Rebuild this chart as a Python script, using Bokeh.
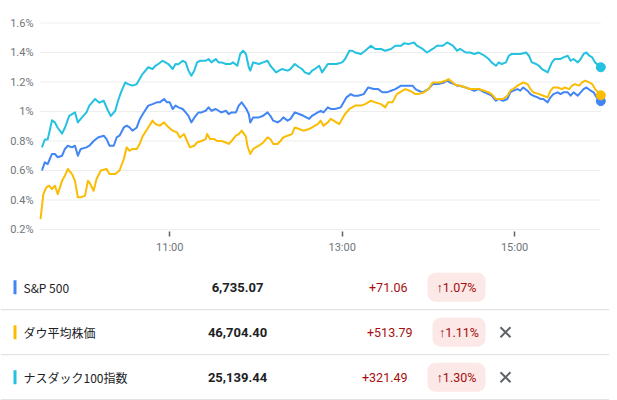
from bokeh.plotting import figure
from bokeh.models import Range1d, FixedTicker, CustomJSTickFormatter
from bokeh.layouts import column
from bokeh.embed import file_html
from bokeh.resources import INLINE
from bokeh.core.properties import value

# ---------------- data ----------------
session_start = "9:30"
session_end = "16:00"

# minutes after 9:30, % change
sp_t = [1, 3, 5, 8, 10, 12, 15, 17, 19, 22,
        24, 26, 28, 32, 34, 37, 40, 44, 46, 48,
        51, 53, 55, 58, 60, 62, 64, 67, 69, 71,
        75, 78, 81, 83, 86, 88, 90, 92, 94, 96,
        99, 101, 103, 105, 108, 110, 112, 115, 117, 119,
        122, 124, 126, 129, 131, 133, 136, 138, 140, 143,
        145, 146, 148, 152, 155, 158, 160, 162, 165, 167,
        169, 172, 174, 177, 180, 183, 187, 189, 193, 195,
        197, 200, 202, 205, 209, 211, 213, 216, 218, 221,
        225, 228, 232, 235, 238, 241, 244, 247, 251, 254,
        256, 259, 261, 263, 266, 268, 270, 273, 275, 277,
        281, 283, 285, 288, 290, 292, 296, 299, 302, 305,
        309, 312, 314, 317, 319, 322, 325, 327, 329, 332,
        334, 336, 339, 341, 343, 346, 348, 350, 353, 355,
        357, 360, 362, 364, 367, 369, 371, 374, 376, 378,
        380, 383, 385, 387, 390]
sp_v = [0.60, 0.655, 0.644, 0.712, 0.712, 0.69, 0.70, 0.746, 0.768, 0.757,
        0.768, 0.70, 0.746, 0.757, 0.768, 0.80, 0.824, 0.836, 0.813, 0.768,
        0.768, 0.824, 0.836, 0.892, 0.904, 0.892, 0.87, 0.892, 0.945, 0.98,
        1.04, 1.05, 1.062, 1.062, 1.085, 1.062, 1.062, 1.017, 1.04, 1.028,
        1.017, 0.994, 0.971, 0.926, 0.971, 0.994, 0.994, 1.005, 1.028, 1.005,
        1.017, 1.005, 0.994, 1.005, 0.983, 0.994, 0.994, 1.04, 1.062, 1.022,
        0.983, 0.926, 0.96, 0.96, 0.971, 0.994, 0.971, 0.938, 0.926, 0.938,
        0.96, 0.938, 0.95, 0.994, 0.983, 0.971, 0.95, 0.971, 0.994, 1.005,
        0.994, 1.028, 1.017, 1.017, 1.028, 1.062, 1.096, 1.118, 1.107, 1.107,
        1.118, 1.163, 1.152, 1.152, 1.13, 1.13, 1.141, 1.152, 1.175, 1.175,
        1.175, 1.175, 1.152, 1.141, 1.13, 1.141, 1.152, 1.186, 1.186, 1.186,
        1.197, 1.209, 1.197, 1.186, 1.175, 1.175, 1.163, 1.152, 1.141, 1.152,
        1.13, 1.118, 1.107, 1.073, 1.085, 1.073, 1.085, 1.13, 1.141, 1.152,
        1.141, 1.163, 1.141, 1.118, 1.107, 1.096, 1.085, 1.085, 1.062, 1.096,
        1.118, 1.13, 1.118, 1.13, 1.13, 1.107, 1.13, 1.107, 1.13, 1.152,
        1.163, 1.141, 1.13, 1.096, 1.07]

dj_t = [0, 2, 4, 6, 8, 10, 12, 15, 17, 19,
        22, 24, 26, 28, 31, 33, 34, 37, 39, 42,
        46, 48, 52, 55, 58, 60, 62, 64, 67, 69,
        71, 75, 78, 80, 83, 86, 88, 92, 95, 97,
        100, 102, 104, 107, 109, 112, 115, 116, 118, 121,
        123, 126, 129, 131, 133, 136, 138, 140, 143, 144,
        146, 148, 152, 155, 158, 160, 162, 165, 167, 169,
        172, 175, 177, 180, 183, 187, 189, 193, 195, 197,
        200, 202, 204, 208, 210, 212, 215, 217, 219, 223,
        226, 230, 233, 237, 240, 242, 245, 248, 252, 254,
        257, 261, 263, 267, 270, 273, 275, 278, 282, 284,
        287, 289, 292, 296, 299, 302, 305, 309, 312, 314,
        317, 319, 322, 325, 327, 329, 332, 334, 336, 339,
        341, 343, 347, 350, 353, 355, 357, 360, 363, 365,
        368, 370, 372, 375, 377, 379, 382, 384, 386, 390]
dj_v = [0.271, 0.44, 0.485, 0.497, 0.474, 0.497, 0.44, 0.53, 0.565, 0.61,
        0.576, 0.53, 0.418, 0.418, 0.43, 0.53, 0.52, 0.463, 0.542, 0.60,
        0.61, 0.576, 0.576, 0.60, 0.678, 0.757, 0.734, 0.746, 0.746, 0.78,
        0.83, 0.892, 0.938, 0.915, 0.904, 0.926, 0.904, 0.87, 0.858, 0.824,
        0.847, 0.80, 0.757, 0.768, 0.79, 0.80, 0.813, 0.847, 0.813, 0.813,
        0.80, 0.80, 0.79, 0.78, 0.80, 0.836, 0.847, 0.87, 0.83, 0.768,
        0.712, 0.746, 0.768, 0.79, 0.824, 0.813, 0.78, 0.78, 0.80, 0.824,
        0.836, 0.847, 0.892, 0.881, 0.87, 0.881, 0.892, 0.915, 0.938, 0.904,
        0.926, 0.95, 0.938, 0.915, 0.95, 0.983, 1.017, 1.028, 1.04, 1.04,
        1.05, 1.073, 1.062, 1.05, 1.028, 1.062, 1.062, 1.118, 1.141, 1.152,
        1.141, 1.118, 1.118, 1.13, 1.152, 1.197, 1.197, 1.197, 1.209, 1.22,
        1.197, 1.18, 1.175, 1.163, 1.152, 1.152, 1.152, 1.141, 1.13, 1.118,
        1.085, 1.085, 1.085, 1.107, 1.141, 1.152, 1.175, 1.186, 1.197, 1.186,
        1.152, 1.13, 1.118, 1.107, 1.096, 1.141, 1.163, 1.163, 1.152, 1.163,
        1.152, 1.175, 1.186, 1.175, 1.197, 1.209, 1.197, 1.186, 1.152, 1.11]

nq_t = [1, 3, 5, 8, 10, 12, 15, 17, 20, 24,
        26, 28, 32, 34, 38, 41, 44, 47, 49, 52,
        54, 56, 59, 61, 64, 67, 69, 71, 75, 78,
        80, 82, 85, 87, 89, 92, 94, 96, 99, 101,
        103, 105, 107, 109, 111, 115, 117, 119, 122, 124,
        126, 129, 132, 134, 137, 139, 141, 143, 145, 146,
        148, 152, 155, 158, 160, 164, 166, 168, 172, 174,
        177, 180, 182, 184, 187, 189, 191, 194, 196, 200,
        203, 206, 210, 212, 215, 217, 219, 223, 226, 230,
        233, 237, 240, 244, 247, 251, 253, 256, 260, 262,
        266, 269, 273, 276, 280, 283, 287, 290, 292, 296,
        299, 302, 305, 309, 312, 314, 317, 319, 321, 324,
        326, 328, 331, 334, 338, 340, 342, 345, 347, 349,
        351, 353, 356, 358, 362, 364, 367, 369, 371, 374,
        376, 378, 380, 382, 384, 386, 390]
nq_v = [0.757, 0.81, 0.81, 0.94, 0.926, 0.89, 0.85, 0.89, 0.97, 0.994,
        0.926, 0.95, 0.994, 1.04, 1.085, 1.06, 1.073, 1.005, 0.97, 1.005,
        1.073, 1.13, 1.197, 1.186, 1.175, 1.186, 1.22, 1.254, 1.3, 1.288,
        1.31, 1.322, 1.344, 1.333, 1.322, 1.288, 1.322, 1.32, 1.344, 1.333,
        1.277, 1.243, 1.277, 1.333, 1.344, 1.344, 1.356, 1.333, 1.356, 1.333,
        1.333, 1.322, 1.322, 1.333, 1.31, 1.39, 1.412, 1.39, 1.3, 1.277,
        1.333, 1.322, 1.333, 1.344, 1.31, 1.265, 1.277, 1.288, 1.277, 1.288,
        1.322, 1.3, 1.288, 1.265, 1.254, 1.277, 1.288, 1.31, 1.265, 1.322,
        1.322, 1.322, 1.333, 1.356, 1.412, 1.412, 1.4, 1.39, 1.412, 1.446,
        1.424, 1.424, 1.412, 1.424, 1.446, 1.446, 1.462, 1.457, 1.468, 1.446,
        1.424, 1.4, 1.424, 1.446, 1.446, 1.468, 1.446, 1.412, 1.424, 1.4,
        1.4, 1.39, 1.4, 1.378, 1.356, 1.333, 1.31, 1.333, 1.322, 1.333,
        1.378, 1.39, 1.39, 1.39, 1.4, 1.378, 1.333, 1.322, 1.31, 1.288,
        1.277, 1.265, 1.333, 1.356, 1.356, 1.367, 1.378, 1.344, 1.356, 1.333,
        1.356, 1.39, 1.4, 1.378, 1.367, 1.333, 1.30]

y_ticks = [0.2, 0.4, 0.6, 0.8, 1.0, 1.2, 1.4, 1.6]
y_tick_labels = ["0.2%", "0.4%", "0.6%", "0.8%", "1%", "1.2%", "1.4%", "1.6%"]
x_tick_labels = ["11:00", "13:00", "15:00"]

names = ["S&P 500", "ダウ平均株価", "ナスダック100指数"]
prices = ["6,735.07", "46,704.40", "25,139.44"]
changes = ["+71.06", "+513.79", "+321.49"]
pcts = ["1.07%", "1.11%", "1.30%"]
removable = [False, True, True]

# ---------------- styles / layout ----------------
colors = ["#4285f4", "#fbbc04", "#24c1e0"]
GRID = "#eeeeee"
LABEL = "#70757a"
TEXT = "#202124"
RED = "#a50e0e"
PINK = "#fce8e6"
ICON = "#5f6368"
FONT = "Roboto"
JFONT = "Noto Sans CJK JP"


def to_min(hm):
    h, m = hm.split(":")
    return int(h) * 60 + int(m)


t0 = to_min(session_start)
t_end = to_min(session_end) - t0
x_ticks = [to_min(s) - t0 for s in x_tick_labels]

W = 609
CH = 266              # chart figure height
PLOT_LEFT = 40        # px where the session starts
PX_PER_MIN = 86.2 / 60
FRAME_TOP = 15
FRAME_BOTTOM = 236
BASE_PX = 229         # px of the lowest tick value
PX_PER_PCT = 147.5
TICK_LEN = 5

x_lo = -PLOT_LEFT / PX_PER_MIN
x_hi = (W - PLOT_LEFT) / PX_PER_MIN
y_lo = y_ticks[0] - (FRAME_BOTTOM - BASE_PX) / PX_PER_PCT
y_hi = y_lo + (FRAME_BOTTOM - FRAME_TOP) / PX_PER_PCT

p = figure(width=W, height=CH, x_range=Range1d(x_lo, x_hi), y_range=Range1d(y_lo, y_hi),
           output_backend="svg", toolbar_location=None, y_axis_location=None,
           min_border_left=0, min_border_right=0, min_border_top=FRAME_TOP,
           min_border_bottom=CH - FRAME_BOTTOM)
p.outline_line_color = None
p.grid.visible = False

# horizontal gridlines ending at session close
p.segment(x0=[0] * len(y_ticks), x1=[t_end] * len(y_ticks), y0=y_ticks, y1=y_ticks,
          line_color=GRID, line_width=1)

# y tick labels, right-aligned 7px left of the session start
p.text(x=[-7 / PX_PER_MIN] * len(y_ticks), y=y_ticks, text=y_tick_labels,
       text_align="right", text_baseline="middle", text_font=value(FONT),
       text_font_size=value("11px"), text_color=LABEL)

series = [(sp_t, sp_v), (dj_t, dj_v), (nq_t, nq_v)]
for (ts, vs), c in zip(series, colors):
    p.line(ts, vs, line_color=c, line_width=2, line_join="round")
for (ts, vs), c in zip(series, colors):
    p.scatter([ts[-1]], [vs[-1]], size=9, fill_color=c, line_color=c)

xa = p.xaxis[0]
xa.ticker = FixedTicker(ticks=x_ticks)
xa.formatter = CustomJSTickFormatter(args=dict(tv=x_ticks, tl=x_tick_labels), code="""
let best = 0, d = 1e9;
for (let i = 0; i < tv.length; i++) { const dd = Math.abs(tv[i] - tick); if (dd < d) { d = dd; best = i; } }
return tl[best];
""")
xa.axis_line_color = None
xa.minor_tick_line_color = None
xa.major_tick_line_color = "#5f6368"
xa.major_tick_line_width = 1.5
xa.major_tick_out = 0
xa.major_tick_in = TICK_LEN
xa.major_label_standoff = 4
xa.major_label_text_font = FONT
xa.major_label_text_font_size = "11px"
xa.major_label_text_color = LABEL

# ---------------- table ----------------
TOP = CH
TH = 400 - CH
t = figure(width=W, height=TH, x_range=Range1d(0, W), y_range=Range1d(TOP + TH, TOP),
           output_backend="svg", toolbar_location=None,
           x_axis_location=None, y_axis_location=None,
           min_border=0, min_border_left=0, min_border_right=0, min_border_top=0, min_border_bottom=0)
t.outline_line_color = None
t.grid.visible = False

row0 = 286.7
row_h = 45
rows = [row0 + i * row_h for i in range(len(names))]
pill_right = 485
pill_w = [58, 53, 58]
pill_h = 29

# separators
seps = [r + row_h / 2 for r in rows]
t.segment(x0=[0] * len(seps), x1=[W] * len(seps), y0=seps, y1=seps, line_color="#dadce0", line_width=1)

# colour markers
t.rect(x=[14.5] * len(rows), y=rows, width=3, height=14, fill_color=colors, line_color=None)

t.text(x=[23] * len(rows), y=rows, text=names, text_align="left", text_baseline="middle",
       text_font=value(JFONT), text_font_size=value("12px"), text_color=TEXT)
t.text(x=[237] * len(rows), y=rows, text=prices, text_align="center", text_baseline="middle",
       text_font=value(FONT), text_font_size=value("13px"), text_font_style="bold", text_color=TEXT)

pl = [pill_right - w for w in pill_w]
t.text(x=[l - 20 for l in pl], y=rows, text=changes, text_align="right", text_baseline="middle",
       text_font=value(FONT), text_font_size=value("12.5px"), text_color=RED)

t.quad(left=pl, right=[pill_right] * len(rows), top=[r - pill_h / 2 for r in rows],
       bottom=[r + pill_h / 2 for r in rows], fill_color=PINK, line_color=None, border_radius=8)
t.text(x=[pill_right - w / 2 for w in pill_w], y=rows, text=["↑" + s for s in pcts],
       text_align="center", text_baseline="middle",
       text_font=value(FONT), text_font_size=value("12.5px"), text_color=RED)

# close icons
cx = 505
hs = 5
x0s, x1s, y0s, y1s = [], [], [], []
for r, rm in zip(rows, removable):
    if rm:
        x0s += [cx - hs, cx - hs]
        x1s += [cx + hs, cx + hs]
        y0s += [r - hs, r + hs]
        y1s += [r + hs, r - hs]
t.segment(x0=x0s, x1=x1s, y0=y0s, y1=y1s, line_color=ICON, line_width=2)

layout = column(p, t)
open("out.html", "w").write(file_html(layout, INLINE))
